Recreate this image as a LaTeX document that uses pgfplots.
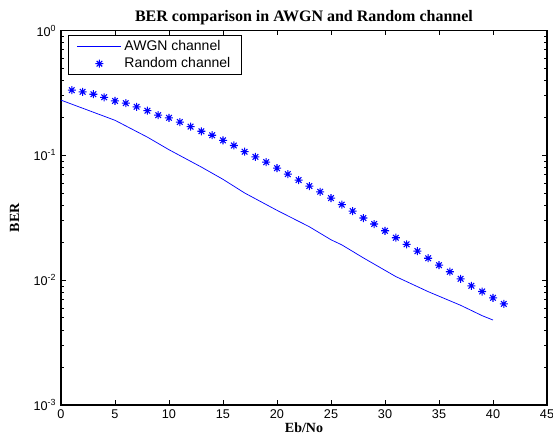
\documentclass[border=0pt]{standalone}
\usepackage{fontspec}
\setmainfont{Liberation Sans}
\newfontfamily\timesfont{Liberation Serif}
\usepackage{pgfplots}
\pgfplotsset{compat=1.18}
\usetikzlibrary{calc}

% MATLAB-style '*' marker: plus and cross
\pgfdeclareplotmark{mstar}{%
  \pgfpathmoveto{\pgfqpoint{-\pgfplotmarksize}{0pt}}%
  \pgfpathlineto{\pgfqpoint{\pgfplotmarksize}{0pt}}%
  \pgfpathmoveto{\pgfqpoint{0pt}{-\pgfplotmarksize}}%
  \pgfpathlineto{\pgfqpoint{0pt}{\pgfplotmarksize}}%
  \pgfpathmoveto{\pgfqpoint{-0.7\pgfplotmarksize}{-0.7\pgfplotmarksize}}%
  \pgfpathlineto{\pgfqpoint{0.7\pgfplotmarksize}{0.7\pgfplotmarksize}}%
  \pgfpathmoveto{\pgfqpoint{-0.7\pgfplotmarksize}{0.7\pgfplotmarksize}}%
  \pgfpathlineto{\pgfqpoint{0.7\pgfplotmarksize}{-0.7\pgfplotmarksize}}%
  \pgfusepathqstroke}

\pgfplotsset{
  linelegend/.style={legend image code/.code={\draw[##1] (0pt,0pt) -- (33pt,0pt);}},
  marklegend/.style={legend image code/.code={\path[draw=none] (0pt,0pt) (33pt,0pt); \draw[##1, only marks] plot coordinates {(16.5pt,0pt)};}},
}

\pgfplotstableread{
x ber
0 0.277
5 0.191
8 0.140
10 0.111
13 0.0806
15 0.0643
17 0.0500
20 0.0363
23 0.0268
25 0.0211
26 0.0192
28 0.0151
31 0.0107
34 0.0081
37 0.0063
39 0.0052
40 0.0048
}\awgn

\pgfplotstableread{
x ber
1 0.333
2 0.323
3 0.309
4 0.292
5 0.273
6 0.262
7 0.245
8 0.228
9 0.210
10 0.200
11 0.185
12 0.170
13 0.156
14 0.145
15 0.132
16 0.120
17 0.107
18 0.0973
19 0.0883
20 0.0790
21 0.0708
22 0.0634
23 0.0568
24 0.0511
25 0.0455
26 0.0403
27 0.0358
28 0.0315
29 0.0282
30 0.0249
31 0.0219
32 0.0194
33 0.0171
34 0.0150
35 0.0132
36 0.0117
37 0.01026
38 0.00902
39 0.00812
40 0.00723
41 0.00646
}\randch

\begin{document}
\begin{tikzpicture}
\begin{axis}[
    name=ax,
    scale only axis,
    width=364.5pt,
    height=280.9pt,
    ymode=log,
    xmin=0, xmax=45,
    ymin=1e-3, ymax=1,
    xtick={0,5,...,45},
    ytick={1e-3,1e-2,1e-1,1},
    yticklabels={10\textsuperscript{-3},10\textsuperscript{-2},10\textsuperscript{-1},10\textsuperscript{0}},
    /pgf/number format/assume math mode=true,
    tick align=inside,
    major tick length=3.5pt,
    minor tick length=2pt,
    axis line style={line width=0.9pt},
    every tick/.style={black, line width=0.6pt},
    ticklabel style={font=\fontsize{9.5}{11}\selectfont},
    title={\timesfont\bfseries BER comparison in AWGN and Random channel},
    title style={font=\fontsize{12}{14}\selectfont, yshift=-5pt},
    xlabel={\timesfont\bfseries Eb/No},
    ylabel={\timesfont\bfseries BER},
    label style={font=\fontsize{10.5}{12}\selectfont},
    xlabel style={yshift=4pt},
    ylabel style={yshift=4pt},
    legend cell align=left,
    legend style={at={(rel axis cs:0,1)}, anchor=north west,
        xshift=5.25pt, yshift=-3.4pt,
        draw=black, line width=0.6pt,
        font=\fontsize{10.5}{12}\selectfont,
        inner xsep=6.5pt, inner ysep=1.5pt, row sep=0pt},
]
\addplot[blue, line width=0.55pt, linelegend]
    table[x=x, y=ber] {\awgn};
\addlegendentry{AWGN channel}
\addplot[blue, only marks, mark=mstar, mark size=3pt, line width=0.8pt, marklegend]
    table[x=x, y=ber] {\randch};
\addlegendentry{Random channel}
\end{axis}
\pgfresetboundingbox
\path[use as bounding box] ($(ax.south west)+(-45.75pt,-24pt)$) rectangle ($(ax.north east)+(4.5pt,22.9pt)$);
\end{tikzpicture}
\end{document}
